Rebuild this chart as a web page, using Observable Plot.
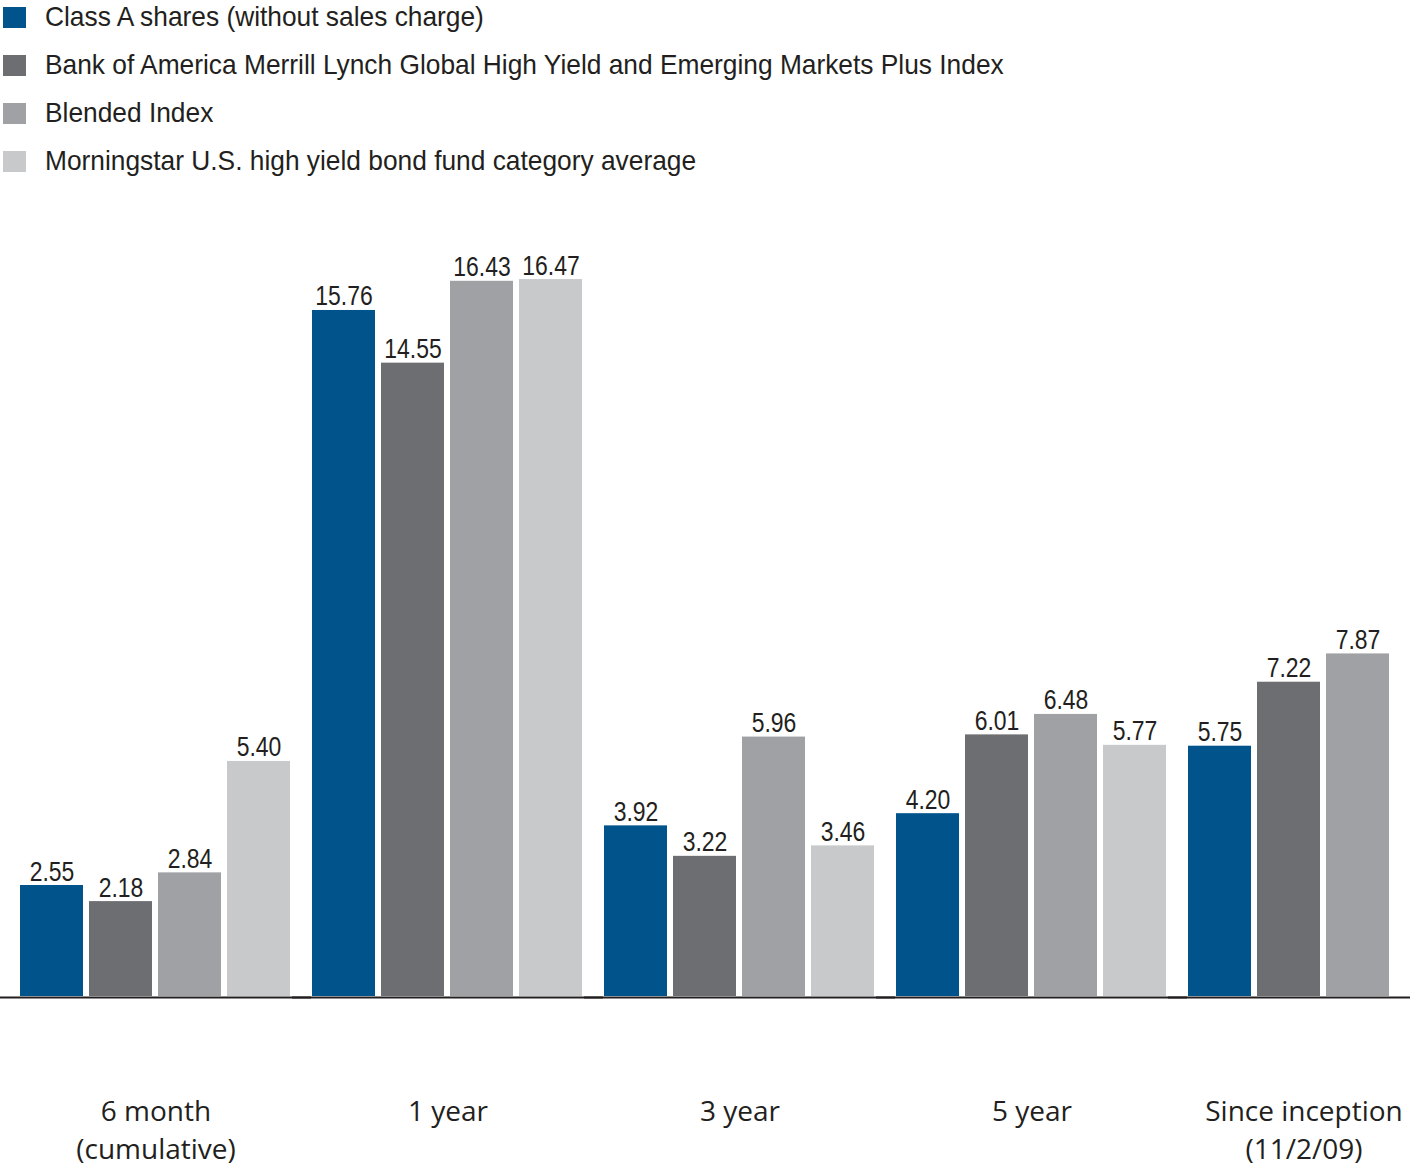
<!DOCTYPE html>
<html>
<head>
<meta charset="utf-8">
<script src="https://cdn.jsdelivr.net/npm/d3@7"></script>
<script src="https://cdn.jsdelivr.net/npm/@observablehq/plot@0.6"></script>
<style>
  html, body { margin: 0; padding: 0; background: #fff; width: 1410px; height: 1167px; overflow: hidden; }
  #legend { position: absolute; left: 0; top: -7px; font-family: "Liberation Sans", Arial, sans-serif; font-size: 28px; color: #231f20; }
  .row { display: flex; align-items: center; height: 48px; white-space: nowrap; }
  .sw { width: 23px; height: 21px; margin-left: 3px; margin-right: 19px; flex: none; }
  .lt { display: inline-block; transform: scaleX(0.94); transform-origin: 0 50%; }
  #chart { position: absolute; left: 0; top: 190px; width: 1410px; height: 977px; overflow: hidden; }
</style>
</head>
<body>
<div id="legend"></div>
<div id="chart"></div>
<script>
const categories = ["6 month\n(cumulative)", "1 year", "3 year", "5 year", "Since inception\n(11/2/09)"];
const seriesNames = [
  "Class A shares (without sales charge)",
  "Bank of America Merrill Lynch Global High Yield and Emerging Markets Plus Index",
  "Blended Index",
  "Morningstar U.S. high yield bond fund category average"
];
const colors = ["#00548b", "#6d6e72", "#a0a1a5", "#c8c9cb"];
const classA = [2.55, 15.76, 3.92, 4.20, 5.75];
const bofa = [2.18, 14.55, 3.22, 6.01, 7.22];
const blended = [2.84, 16.43, 5.96, 6.48, 7.87];
const morningstar = [5.40, 16.47, 3.46, 5.77, null];

const seriesValues = [classA, bofa, blended, morningstar];
const data = [];
categories.forEach((c, i) => {
  seriesNames.forEach((s, j) => {
    const v = seriesValues[j][i];
    if (v != null) data.push({cat: c, series: s, value: v});
  });
});

// legend
const legend = document.getElementById("legend");
seriesNames.forEach((s, j) => {
  const row = document.createElement("div");
  row.className = "row";
  const sw = document.createElement("div");
  sw.className = "sw";
  sw.style.background = colors[j];
  const t = document.createElement("span");
  t.className = "lt";
  t.textContent = s;
  row.appendChild(sw);
  row.appendChild(t);
  legend.appendChild(row);
});

const labelFont = "Liberation Sans, Arial, sans-serif";
const axisFont = "Open Sans, Noto Sans, sans-serif";

const chart = Plot.plot({
  width: 1460,
  height: 977,
  marginLeft: 19,
  marginRight: 0,
  marginTop: 66,
  marginBottom: 171,
  style: {maxWidth: "none", background: "white", color: "#231f20"},
  fx: {domain: categories, paddingInner: 19 / 292, paddingOuter: 0, label: null},
  x: {domain: seriesNames, paddingInner: 6 / 70, paddingOuter: 0, axis: null},
  y: {domain: [0, 17], axis: null},
  color: {domain: seriesNames, range: colors},
  marks: [
    Plot.barY(data, {fx: "cat", x: "series", y: "value", fill: "series"}),
    Plot.ruleY([0], {stroke: "#231f20", strokeWidth: 2, insetLeft: -19, insetRight: -19, dy: 1}),
    Plot.text(data, {
      fx: "cat", x: "series", y: "value",
      text: d => d.value.toFixed(2),
      lineAnchor: "bottom", dy: -5,
      fontSize: 28, fontFamily: labelFont, fill: "#231f20"
    }),
    Plot.axisFx({
      ticks: categories.slice(0, 4), anchor: "bottom", tickSize: 0, tickPadding: 97,
      lineAnchor: "top", lineHeight: 1.37, fontSize: 28, fontFamily: axisFont, label: null,
      tickFormat: d => d, fill: "#231f20"
    }),
    Plot.axisFx({
      ticks: categories.slice(4), anchor: "bottom", tickSize: 0, tickPadding: 97, dx: -20,
      lineAnchor: "top", lineHeight: 1.37, fontSize: 28, fontFamily: axisFont, label: null,
      tickFormat: d => d, fill: "#231f20"
    })
  ]
});
// condense value-label glyphs horizontally (the reference uses a condensed face)
chart.querySelectorAll("text").forEach(t => {
  if (!/^\d+\.\d\d$/.test(t.textContent.trim())) return;
  const tr = t.getAttribute("transform");
  if (tr) {
    t.setAttribute("transform", tr + " scale(0.82,1)");
  } else {
    const x = t.getAttribute("x") || 0, y = t.getAttribute("y") || 0;
    t.removeAttribute("x"); t.removeAttribute("y");
    t.setAttribute("transform", `translate(${x},${y}) scale(0.82,1)`);
  }
});
document.getElementById("chart").appendChild(chart);
</script>
</body>
</html>
